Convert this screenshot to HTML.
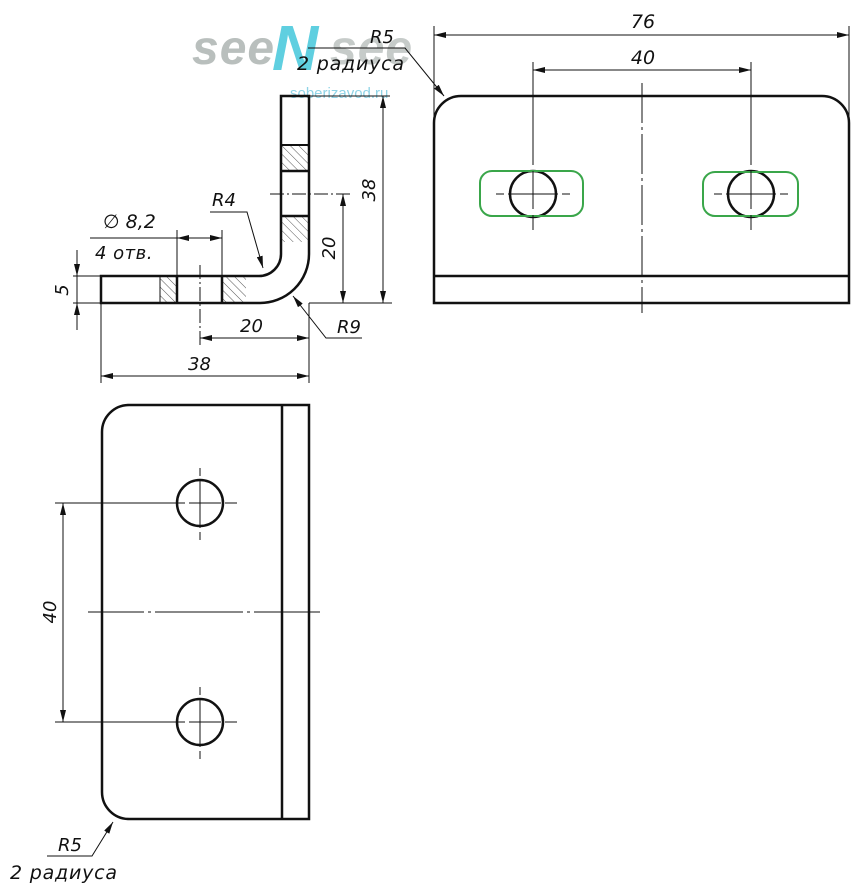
<!DOCTYPE html>
<html><head><meta charset="utf-8"><style>
html,body{margin:0;padding:0;background:#fff;width:868px;height:896px;overflow:hidden}
svg text{font-family:"DejaVu Sans","Liberation Sans",sans-serif;font-style:italic;fill:#111}
</style></head><body>
<svg width="868" height="896" viewBox="0 0 868 896" xmlns="http://www.w3.org/2000/svg">
<defs>
<marker id="a" viewBox="0 0 12 6" refX="12" refY="3" markerWidth="12" markerHeight="6" orient="auto-start-reverse" markerUnits="userSpaceOnUse"><path d="M0,0 L12,3 L0,6 z" fill="#111"/></marker>
<pattern id="h" width="6" height="6" patternUnits="userSpaceOnUse" patternTransform="rotate(-45)"><line x1="0" y1="0" x2="0" y2="6" stroke="#555" stroke-width="1"/></pattern>
</defs>
<!-- watermark -->
<text x="192" y="64" style="font-family:'Liberation Sans',sans-serif;font-weight:bold;font-style:italic;font-size:48px;fill:#b9bfbd;letter-spacing:1px">see</text>
<text x="272" y="70" style="font-family:'Liberation Sans',sans-serif;font-weight:bold;font-style:italic;font-size:64px;fill:#5fcfe0">N</text>
<text x="330" y="64" style="font-family:'Liberation Sans',sans-serif;font-weight:bold;font-style:italic;font-size:48px;fill:#c6cbc9;letter-spacing:1px">see</text>
<text x="290" y="98" style="font-family:'Liberation Sans',sans-serif;font-style:normal;font-size:15px;fill:#8fd3e6">soberizavod.ru</text>

<g fill="none" stroke="#111" stroke-width="1">
<rect x="282" y="145" width="26" height="26" fill="url(#h)" stroke="none"/>
<rect x="282" y="216" width="26" height="26" fill="url(#h)" stroke="none"/>
<rect x="160" y="277" width="17" height="25" fill="url(#h)" stroke="none"/>
<rect x="222" y="277" width="24" height="25" fill="url(#h)" stroke="none"/>
<path d="M281,96 L309,96 L309,254 A49,49 0 0 1 259,303 L101,303 L101,276 L259,276 A22,22 0 0 0 281,254 Z" stroke-width="2.5"/>
<line x1="282" y1="145" x2="308" y2="145" stroke-width="2"/>
<line x1="282" y1="171" x2="308" y2="171" stroke-width="2.5"/>
<line x1="282" y1="216" x2="308" y2="216" stroke-width="2.5"/>
<line x1="177" y1="277" x2="177" y2="302" stroke-width="2.5"/>
<line x1="222" y1="277" x2="222" y2="302" stroke-width="2.5"/>
<line x1="160" y1="277" x2="160" y2="302"/>
<line x1="270" y1="194" x2="352" y2="194" stroke-dasharray="14,3,2,3"/>
<line x1="200" y1="265" x2="200" y2="345" stroke-dasharray="14,3,2,3"/>
<line x1="309" y1="96" x2="390" y2="96"/>
<line x1="309" y1="303" x2="392" y2="303"/>
<line x1="383" y1="96" x2="383" y2="303" marker-start="url(#a)" marker-end="url(#a)"/>
<line x1="343" y1="194" x2="343" y2="303" marker-start="url(#a)" marker-end="url(#a)"/>
<line x1="101" y1="276" x2="73" y2="276"/>
<line x1="101" y1="303" x2="73" y2="303"/>
<line x1="77" y1="250" x2="77" y2="276" marker-end="url(#a)"/>
<line x1="77" y1="330" x2="77" y2="303" marker-end="url(#a)"/>
<line x1="77" y1="276" x2="77" y2="303"/>
<line x1="177" y1="230" x2="177" y2="276"/>
<line x1="222" y1="230" x2="222" y2="276"/>
<line x1="90" y1="238" x2="222" y2="238"/>
<line x1="177" y1="238" x2="222" y2="238" marker-start="url(#a)" marker-end="url(#a)"/>
<line x1="309" y1="303" x2="309" y2="383"/>
<line x1="101" y1="303" x2="101" y2="383"/>
<line x1="200" y1="338" x2="309" y2="338" marker-start="url(#a)" marker-end="url(#a)"/>
<line x1="101" y1="376" x2="309" y2="376" marker-start="url(#a)" marker-end="url(#a)"/>
<polyline points="210,212 247,212 263,268" marker-end="url(#a)"/>
<polyline points="362,338 326,338 293,296" marker-end="url(#a)"/>

<!-- front view -->
<path d="M434,303 L434,123 A27,27 0 0 1 461,96 L822,96 A27,27 0 0 1 849,123 L849,303 Z" stroke-width="2.5"/>
<line x1="434" y1="276" x2="849" y2="276" stroke-width="2.5"/>
<circle cx="533" cy="194" r="23" stroke-width="2.5"/>
<circle cx="751" cy="194" r="23" stroke-width="2.5"/>
<rect x="480" y="171" width="103" height="45" rx="12" stroke="#3aa64a" stroke-width="2"/>
<rect x="703" y="172" width="95" height="44" rx="12" stroke="#3aa64a" stroke-width="2"/>
<line x1="496" y1="194" x2="570" y2="194" stroke-dasharray="8,4,50,4,8"/>
<line x1="714" y1="194" x2="788" y2="194" stroke-dasharray="8,4,50,4,8"/>
<line x1="533" y1="62" x2="533" y2="230" stroke-dasharray="103,6,38,6,15"/>
<line x1="751" y1="62" x2="751" y2="230" stroke-dasharray="103,6,38,6,15"/>
<line x1="642" y1="83" x2="642" y2="313" stroke-dasharray="40,4,3,4"/>
<line x1="434" y1="26" x2="434" y2="120"/>
<line x1="849" y1="26" x2="849" y2="120"/>
<line x1="434" y1="35" x2="849" y2="35" marker-start="url(#a)" marker-end="url(#a)"/>
<line x1="533" y1="70" x2="751" y2="70" marker-start="url(#a)" marker-end="url(#a)"/>
<polyline points="308,48 405,48 444,96" marker-end="url(#a)"/>

<!-- bottom view -->
<path d="M309,405 L129,405 A27,27 0 0 0 102,432 L102,792 A27,27 0 0 0 129,819 L309,819 Z" stroke-width="2.5"/>
<line x1="282" y1="405" x2="282" y2="819" stroke-width="2.5"/>
<circle cx="200" cy="503" r="23" stroke-width="2.5"/>
<circle cx="200" cy="722" r="23" stroke-width="2.5"/>
<line x1="200" y1="468" x2="200" y2="540" stroke-dasharray="8,4,48,4,8"/>
<line x1="200" y1="687" x2="200" y2="759" stroke-dasharray="8,4,48,4,8"/>
<line x1="55" y1="503" x2="237" y2="503" stroke-dasharray="130,4,32,4,12"/>
<line x1="55" y1="722" x2="237" y2="722" stroke-dasharray="130,4,32,4,12"/>
<line x1="88" y1="612" x2="320" y2="612" stroke-dasharray="56,4,3,4,88,4,3,4,70"/>
<line x1="63" y1="503" x2="63" y2="722" marker-start="url(#a)" marker-end="url(#a)"/>
<polyline points="47,856 92,856 113,822" marker-end="url(#a)"/>
</g>

<text x="643" y="28" font-size="19" text-anchor="middle">76</text>
<text x="643" y="64" font-size="19" text-anchor="middle">40</text>
<text x="370" y="43" font-size="18">R5</text>
<text x="297" y="70" font-size="19" letter-spacing="0.8">2 радиуса</text>
<text x="212" y="206" font-size="18">R4</text>
<text x="337" y="333" font-size="18">R9</text>
<text x="103" y="228" font-size="19">∅ 8,2</text>
<text x="95" y="259" font-size="18" letter-spacing="0.5">4 отв.</text>
<text x="240" y="332" font-size="18">20</text>
<text x="188" y="370" font-size="18">38</text>
<text transform="translate(68,290) rotate(-90)" font-size="18" text-anchor="middle">5</text>
<text transform="translate(335,248) rotate(-90)" font-size="18" text-anchor="middle">20</text>
<text transform="translate(375,190) rotate(-90)" font-size="18" text-anchor="middle">38</text>
<text transform="translate(56,612) rotate(-90)" font-size="18" text-anchor="middle">40</text>
<text x="58" y="851" font-size="18">R5</text>
<text x="10" y="879" font-size="19" letter-spacing="0.8">2 радиуса</text>
</svg>
</body></html>
